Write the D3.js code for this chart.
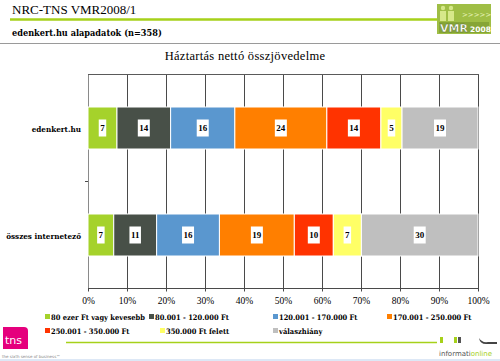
<!DOCTYPE html>
<html>
<head>
<meta charset="utf-8">
<script src="https://cdn.jsdelivr.net/npm/d3@7"></script>
<style>
body { margin: 0; background: #fff; }
svg { display: block; }
text { font-family: "Liberation Serif", "DejaVu Serif", serif; }
.bd { font-family: "DejaVu Serif Condensed", "DejaVu Serif", serif; font-weight: bold; }
</style>
</head>
<body>
<script>
// data
const categories = ["edenkert.hu", "összes internetező"];
const seriesNames = ["80 ezer Ft vagy kevesebb", "80.001 - 120.000 Ft", "120.001 - 170.000 Ft",
    "170.001 - 250.000 Ft", "250.001 - 350.000 Ft", "350.000 Ft felett", "válaszhiány"];
const seriesColors = ["#a5d22b", "#485048", "#5a97cf", "#ff7f00", "#ff3300", "#ffff66", "#bfbfbf"];
const edenkertValues = [7.4, 13.7, 16.4, 23.5, 13.8, 5.4, 19.4];
const osszesValues = [6.6, 11.0, 16.1, 19.2, 10.0, 7.2, 29.9];
const tickValues = [0, 0.1, 0.2, 0.3, 0.4, 0.5, 0.6, 0.7, 0.8, 0.9, 1];

const width = 500, height = 361;
const svg = d3.select("body").append("svg")
    .attr("width", width)
    .attr("height", height);

// scale a text's font so its width comes out at target px
function fitSize(sel, target) {
    const w = sel.node().getComputedTextLength();
    const fs = parseFloat(sel.style("font-size"));
    return fs * target / w;
}

// header
svg.append("text").attr("x", 12).attr("y", 14)
    .style("font-size", "13px").text("NRC-TNS VMR2008/1");
svg.append("line").attr("x1", 10).attr("x2", 437).attr("y1", 19.5).attr("y2", 19.5)
    .attr("stroke", "#a6d11a").attr("stroke-width", 2.5);
const sub = svg.append("text").attr("class", "bd").attr("x", 12).attr("y", 36)
    .style("font-size", "10px")
    .text("edenkert.hu alapadatok (n=358)");
sub.style("font-size", fitSize(sub, 150) + "px");
svg.append("line").attr("x1", 0).attr("x2", 500).attr("y1", 43.5).attr("y2", 43.5)
    .attr("stroke", "#9a9a9a").attr("stroke-width", 1);

// VMR logo (rough)
const logo = svg.append("g").attr("transform", "translate(437,4)");
logo.append("rect").attr("width", 54).attr("height", 30).attr("fill", "#9fbe45");
logo.append("rect").attr("x", 2).attr("y", 18).attr("width", 50).attr("height", 11).attr("fill", "#86a536");
[6, 14].forEach(px => {
    logo.append("circle").attr("cx", px).attr("cy", 4).attr("r", 2.2).attr("fill", "#d6e88a");
    logo.append("rect").attr("x", px - 3).attr("y", 7).attr("width", 6).attr("height", 10).attr("fill", "#d6e88a");
});
logo.append("text").attr("x", 25).attr("y", 13).style("font-size", "7px").attr("fill", "#e8f3b8")
    .style("font-family", "DejaVu Sans").text(">>>>>");
logo.append("text").attr("x", 3).attr("y", 28).style("font-size", "11px")
    .style("font-family", "DejaVu Sans").style("font-weight", "bold")
    .attr("fill", "#fff").attr("stroke", "#55702a").attr("stroke-width", 0.4).text("VMR");
logo.append("text").attr("x", 33).attr("y", 28).style("font-size", "7.5px")
    .style("font-family", "DejaVu Sans").style("font-weight", "bold")
    .attr("fill", "#fff").text("2008");

// title
svg.append("text").attr("x", 245).attr("y", 60).attr("text-anchor", "middle")
    .style("font-size", "12.5px").style("letter-spacing", "0.3px")
    .text("Háztartás nettó összjövedelme");

// stacked (100%) table
const keys = d3.range(seriesNames.length);
const table = [edenkertValues, osszesValues].map((vals, i) => {
    const row = { cat: categories[i] };
    keys.forEach(k => row[k] = vals[k]);
    return row;
});
const stacked = d3.stack().keys(keys).offset(d3.stackOffsetExpand)(table);

const x = d3.scaleLinear().domain([0, 1]).range([88, 478]);
const y = d3.scaleBand().domain(categories).range([74, 288]).padding(0);
const barH = 42;

// grid
const grid = svg.append("g");
grid.selectAll("line.v").data(tickValues).enter().append("line")
    .attr("x1", d => x(d) + 0.5).attr("x2", d => x(d) + 0.5)
    .attr("y1", 74).attr("y2", 288)
    .attr("stroke", d => d === 0 ? "#8a8a8a" : "#4a4a4a").attr("stroke-width", 1);
grid.append("line").attr("x1", x(0)).attr("x2", x(1) + 1).attr("y1", 74.5).attr("y2", 74.5)
    .attr("stroke", "#5a5a5a");

// bars
const layers = svg.append("g").selectAll("g").data(stacked).enter().append("g")
    .attr("fill", d => seriesColors[d.key]);
layers.selectAll("rect").data(d => d).enter().append("rect")
    .attr("x", d => x(d[0]))
    .attr("width", d => x(d[1]) - x(d[0]))
    .attr("y", d => y(d.data.cat) + (y.bandwidth() - barH) / 2 + 0.5)
    .attr("height", barH)
    .attr("stroke", "#fff").attr("stroke-width", 1);

// value labels
const labels = svg.append("g");
stacked.forEach(layer => {
    layer.forEach(d => {
        const v = Math.round(d.data[layer.key]);
        const cx = (x(d[0]) + x(d[1])) / 2;
        const cy = y(d.data.cat) + y.bandwidth() / 2 + 0.5;
        const g = labels.append("g");
        const t = g.append("text").attr("x", cx).attr("y", cy + 3)
            .attr("text-anchor", "middle")
            .style("font-size", "9px").style("font-weight", "bold")
            .text(v);
        const w = t.node().getComputedTextLength();
        g.insert("rect", "text").attr("x", cx - w / 2 - 1.5).attr("y", cy - 8.5)
            .attr("width", w + 3).attr("height", 17).attr("fill", "#fff");
    });
});

// x axis
const xAxis = svg.append("g").attr("transform", "translate(0,288.5)");
xAxis.append("line").attr("x1", x(0)).attr("x2", x(1) + 1).attr("stroke", "#4a4a4a");
xAxis.selectAll("line.t").data(tickValues).enter().append("line")
    .attr("x1", d => x(d) + 0.5).attr("x2", d => x(d) + 0.5)
    .attr("y1", 0).attr("y2", 3).attr("stroke", "#4a4a4a");
xAxis.selectAll("text").data(tickValues).enter().append("text")
    .attr("x", d => x(d) + 0.5).attr("y", 15)
    .attr("text-anchor", "middle")
    .style("font-size", "9.5px")
    .text(d3.format(".0%"));

// y axis labels + middle tick
svg.append("line").attr("x1", 85).attr("x2", 88).attr("y1", 181.5).attr("y2", 181.5)
    .attr("stroke", "#4a4a4a");
const yLabels = svg.append("g").selectAll("text").data(categories).enter().append("text")
    .attr("class", "bd")
    .attr("x", 81).attr("y", d => y(d) + y.bandwidth() / 2 + 4)
    .attr("text-anchor", "end")
    .style("font-size", "8.5px")
    .text(d => d);
const ySize = fitSize(d3.select(yLabels.nodes()[1]), 75);
yLabels.style("font-size", ySize + "px");

// legend
const legendPos = [[45, 317], [149, 317], [273, 317], [387, 317], [45, 331], [160, 331], [273, 331]];
const legend = svg.append("g").selectAll("g").data(seriesNames).enter().append("g")
    .attr("transform", (d, i) => `translate(${legendPos[i][0]},${legendPos[i][1]})`);
legend.append("rect").attr("x", 0).attr("y", -3).attr("width", 5).attr("height", 5)
    .attr("fill", (d, i) => seriesColors[i]);
const legendText = legend.append("text").attr("class", "bd").attr("x", 6).attr("y", 2.5)
    .style("font-size", "8px")
    .text(d => d);
const lSize = fitSize(d3.select(legendText.nodes()[0]), 94);
legendText.style("font-size", lSize + "px");

// footer
svg.append("line").attr("x1", 66).attr("x2", 437).attr("y1", 342.5).attr("y2", 342.5)
    .attr("stroke", "#a6d11a").attr("stroke-width", 1.5);
svg.append("path").attr("d", "M3,327 L24,327 Q28,327 28,331 L28,349 L3,349 Z").attr("fill", "#e5007d");
svg.append("text").attr("x", 5).attr("y", 344).attr("fill", "#fff")
    .style("font-family", "DejaVu Sans").style("font-size", "11px").text("tns");
svg.append("text").attr("x", 2).attr("y", 358).attr("fill", "#888")
    .style("font-family", "DejaVu Sans").style("font-size", "4px").text("the sixth sense of business\u2122");

const info = svg.append("g");
info.append("rect").attr("x", 440).attr("y", 337).attr("width", 3).attr("height", 6).attr("fill", "#a6d11a");
info.append("rect").attr("x", 454).attr("y", 337).attr("width", 3).attr("height", 6).attr("fill", "#a6d11a");
info.append("rect").attr("x", 458).attr("y", 337).attr("width", 3).attr("height", 6).attr("fill", "#555");
info.append("path").attr("d", "M479,338 Q482,343 488,342 L497,342 L497,344 L486,344 Q480,344 479,338 Z").attr("fill", "#444");
const infoText = info.append("text").attr("x", 439).attr("y", 356)
    .style("font-family", "DejaVu Sans").style("font-size", "7px");
infoText.append("tspan").attr("fill", "#555").text("informati");
infoText.append("tspan").attr("fill", "#a6d11a").text("online");

svg.append("rect").attr("x", 0).attr("y", 359).attr("width", 500).attr("height", 2).attr("fill", "#dde8f6");
</script>
</body>
</html>
